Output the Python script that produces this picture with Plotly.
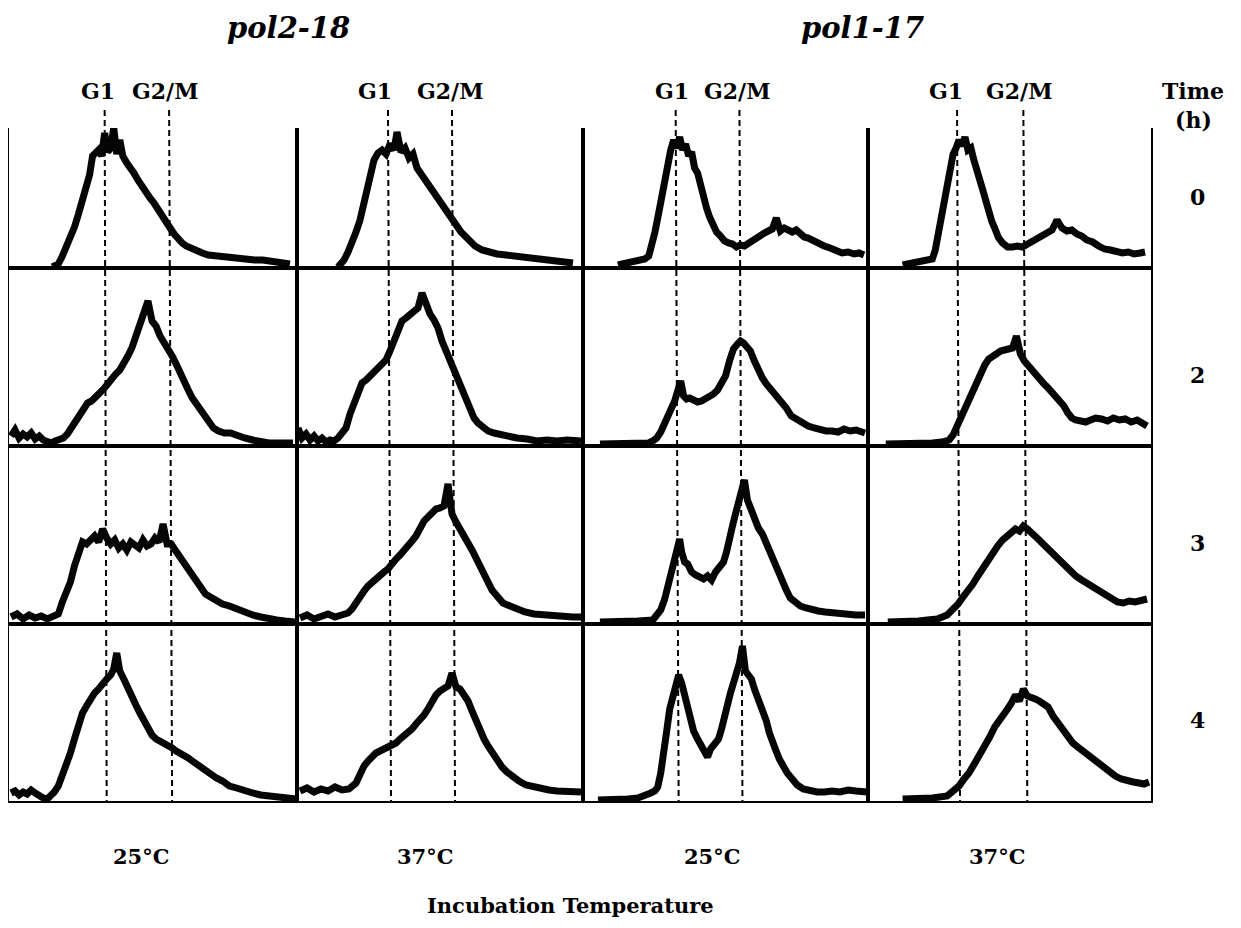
import plotly.graph_objects as go

# ---------------- data (DNA content channel offset, relative cell number) ----------------
# pol2-18, 25C
pol2_25_0h_x = [43, 49, 53, 57, 61, 65, 69, 73, 77, 80, 83, 86, 89, 92, 95, 98, 101, 104, 107, 110, 113, 117, 121, 124, 128, 132, 136, 140, 144, 148, 152, 156, 160, 164, 168, 172, 176, 180, 186, 192, 198, 205, 212, 220, 228, 236, 244, 252, 260, 268, 274, 279]
pol2_25_0h_y = [1, 4, 12, 21, 31, 41, 54, 68, 82, 93, 112, 116, 118, 112, 135, 116, 120, 140, 114, 128, 112, 105, 100, 95, 88, 81, 76, 70, 65, 58, 52, 45, 40, 34, 28, 25, 22, 20, 17, 15, 13, 12, 11, 11, 10, 9, 8, 8, 7, 6, 5, 4]
pol2_25_2h_x = [2, 6, 10, 14, 18, 22, 26, 30, 34, 38, 42, 46, 50, 54, 58, 62, 66, 70, 74, 78, 82, 86, 90, 94, 98, 102, 106, 110, 114, 118, 122, 126, 130, 134, 138, 142, 146, 150, 154, 158, 162, 166, 170, 174, 178, 182, 186, 190, 194, 198, 203, 208, 214, 220, 227, 234, 242, 250, 258, 266, 274, 282]
pol2_25_2h_y = [10, 16, 8, 12, 9, 13, 7, 10, 6, 4, 3, 5, 6, 8, 12, 18, 26, 31, 37, 43, 45, 50, 53, 57, 63, 66, 72, 76, 82, 90, 98, 110, 118, 130, 145, 125, 120, 110, 104, 98, 90, 82, 72, 64, 56, 48, 42, 35, 30, 23, 18, 15, 13, 13, 10, 8, 6, 4, 3, 3, 3, 3]
pol2_25_3h_x = [2, 8, 14, 20, 26, 32, 38, 44, 49, 53, 57, 61, 65, 69, 73, 77, 81, 85, 89, 93, 97, 101, 105, 109, 113, 117, 121, 125, 129, 133, 137, 141, 145, 149, 153, 157, 161, 165, 169, 173, 177, 181, 185, 190, 195, 200, 206, 212, 219, 226, 234, 242, 250, 258, 266, 274, 284]
pol2_25_3h_y = [7, 10, 5, 9, 6, 8, 5, 7, 10, 22, 32, 42, 58, 72, 82, 80, 84, 88, 82, 95, 86, 80, 84, 76, 80, 74, 82, 78, 76, 84, 78, 80, 86, 82, 100, 80, 80, 74, 68, 62, 57, 51, 45, 37, 30, 27, 23, 20, 18, 15, 12, 9, 7, 5, 4, 3, 2]
pol2_25_4h_x = [2, 6, 10, 14, 18, 22, 26, 30, 34, 38, 42, 45, 49, 53, 57, 61, 65, 69, 73, 77, 81, 85, 89, 93, 97, 101, 104, 107, 110, 114, 118, 122, 126, 130, 134, 138, 142, 146, 150, 154, 158, 162, 166, 170, 174, 178, 182, 186, 190, 195, 200, 206, 212, 219, 226, 234, 242, 250, 258, 266, 274, 280, 285]
pol2_25_4h_y = [8, 10, 6, 9, 7, 11, 8, 5, 3, 2, 5, 9, 15, 25, 35, 48, 62, 75, 88, 95, 102, 108, 112, 118, 122, 126, 132, 148, 130, 122, 112, 104, 96, 88, 80, 72, 66, 62, 60, 57, 55, 53, 50, 48, 46, 43, 40, 37, 34, 31, 27, 23, 20, 15, 13, 10, 8, 6, 5, 4, 3, 2, 2]
# pol2-18, 37C
pol2_37_0h_x = [41, 47, 51, 55, 59, 63, 67, 71, 74, 77, 81, 85, 89, 93, 97, 100, 104, 108, 112, 116, 120, 124, 128, 132, 136, 140, 144, 148, 152, 156, 160, 164, 168, 172, 178, 185, 192, 200, 209, 218, 226, 234, 241, 250, 258, 266, 272, 276]
pol2_37_0h_y = [1, 8, 16, 25, 36, 48, 64, 81, 96, 108, 115, 118, 114, 124, 118, 136, 116, 120, 110, 114, 100, 94, 90, 84, 78, 72, 65, 60, 55, 48, 42, 36, 32, 28, 22, 18, 16, 14, 13, 12, 11, 11, 10, 9, 8, 7, 6, 5]
pol2_37_2h_x = [1, 5, 9, 13, 17, 21, 25, 29, 33, 37, 41, 45, 49, 53, 57, 61, 65, 69, 73, 77, 81, 85, 89, 93, 97, 101, 105, 109, 113, 117, 121, 125, 129, 133, 137, 141, 145, 149, 153, 157, 161, 165, 169, 173, 177, 181, 185, 191, 197, 204, 212, 220, 230, 240, 250, 260, 270, 284]
pol2_37_2h_y = [18, 8, 12, 6, 10, 5, 8, 4, 6, 5, 8, 12, 18, 32, 42, 55, 63, 66, 70, 73, 76, 80, 86, 95, 105, 118, 125, 128, 132, 135, 138, 153, 140, 132, 126, 118, 105, 95, 85, 77, 66, 55, 45, 36, 28, 23, 19, 15, 13, 11, 9, 8, 7, 5, 6, 5, 6, 5]
pol2_37_3h_x = [3, 10, 17, 24, 31, 38, 45, 51, 55, 59, 63, 67, 71, 75, 79, 83, 87, 91, 95, 99, 103, 107, 111, 115, 119, 123, 127, 131, 135, 139, 143, 147, 151, 155, 159, 163, 167, 171, 175, 179, 183, 187, 191, 195, 200, 206, 213, 220, 228, 237, 246, 256, 266, 276, 284]
pol2_37_3h_y = [6, 9, 5, 8, 10, 7, 9, 11, 15, 22, 27, 33, 38, 42, 45, 48, 52, 55, 61, 65, 69, 73, 78, 83, 88, 96, 103, 107, 112, 115, 116, 118, 140, 110, 102, 94, 88, 81, 74, 66, 57, 49, 41, 34, 28, 21, 18, 15, 12, 10, 9, 8, 8, 7, 7]
pol2_37_4h_x = [3, 10, 17, 24, 31, 38, 45, 52, 59, 63, 67, 71, 75, 79, 83, 87, 91, 95, 99, 103, 107, 111, 115, 119, 123, 127, 131, 135, 139, 143, 147, 151, 155, 159, 163, 167, 171, 175, 179, 183, 187, 191, 195, 200, 205, 210, 216, 222, 229, 236, 244, 252, 260, 268, 276, 284]
pol2_37_4h_y = [10, 13, 9, 12, 10, 14, 11, 12, 18, 28, 35, 40, 45, 48, 50, 52, 54, 56, 58, 62, 65, 69, 72, 77, 81, 86, 92, 100, 106, 110, 112, 115, 128, 114, 112, 106, 100, 90, 80, 70, 62, 55, 48, 40, 34, 29, 24, 20, 16, 14, 12, 11, 10, 10, 9, 9]
# pol1-17, 25C
pol1_25_0h_x = [35, 45, 55, 62, 66, 69, 72, 75, 78, 81, 84, 86, 88, 91, 94, 97, 100, 103, 106, 109, 112, 115, 118, 121, 124, 127, 130, 134, 138, 142, 146, 150, 154, 158, 162, 166, 170, 174, 178, 182, 186, 190, 194, 198, 202, 206, 210, 214, 218, 222, 226, 230, 236, 242, 248, 254, 260, 266, 272, 277, 282]
pol1_25_0h_y = [3, 5, 7, 9, 12, 22, 35, 50, 68, 80, 95, 108, 118, 128, 120, 131, 118, 124, 112, 116, 100, 95, 82, 71, 60, 51, 44, 36, 32, 27, 25, 24, 21, 23, 22, 25, 26, 30, 33, 35, 37, 39, 50, 37, 40, 38, 36, 38, 34, 31, 30, 28, 24, 22, 20, 18, 15, 16, 14, 15, 13]
pol1_25_2h_x = [17, 30, 45, 58, 66, 70, 74, 78, 82, 86, 89, 92, 95, 98, 101, 104, 107, 111, 115, 119, 123, 127, 131, 135, 139, 143, 147, 151, 155, 158, 161, 164, 168, 172, 176, 180, 184, 189, 194, 199, 204, 209, 214, 220, 226, 232, 238, 244, 250, 256, 262, 268, 274, 283]
pol1_25_2h_y = [2, 2, 3, 2, 3, 5, 8, 14, 22, 32, 38, 45, 55, 65, 50, 47, 48, 46, 44, 45, 47, 50, 52, 56, 62, 70, 85, 97, 102, 105, 103, 100, 95, 85, 75, 68, 62, 56, 50, 45, 38, 30, 27, 23, 20, 18, 16, 15, 15, 14, 17, 15, 16, 13]
pol1_25_3h_x = [17, 35, 55, 70, 74, 78, 82, 86, 89, 92, 95, 97, 99, 102, 105, 109, 113, 117, 121, 125, 129, 133, 137, 141, 144, 147, 150, 153, 156, 159, 162, 165, 168, 172, 176, 180, 184, 188, 192, 196, 200, 204, 208, 213, 218, 224, 230, 236, 243, 250, 258, 266, 274, 283]
pol1_25_3h_y = [2, 2, 3, 4, 8, 14, 25, 40, 55, 65, 75, 85, 72, 62, 60, 52, 49, 46, 45, 48, 44, 52, 56, 62, 72, 82, 98, 110, 120, 128, 144, 124, 115, 108, 96, 90, 80, 72, 62, 50, 42, 34, 26, 22, 18, 16, 14, 13, 12, 11, 10, 10, 9, 9]
pol1_25_4h_x = [15, 30, 45, 55, 62, 68, 72, 75, 78, 81, 84, 87, 90, 93, 96, 99, 102, 105, 108, 111, 115, 119, 122, 125, 128, 132, 136, 139, 142, 145, 148, 151, 154, 157, 160, 163, 166, 169, 172, 175, 178, 181, 184, 187, 190, 193, 197, 201, 205, 210, 215, 221, 228, 235, 242, 250, 258, 266, 274, 280, 285]
pol1_25_4h_y = [1, 1, 2, 3, 5, 8, 10, 14, 28, 45, 70, 92, 102, 118, 126, 118, 104, 92, 78, 70, 62, 56, 50, 44, 52, 56, 62, 72, 86, 100, 108, 118, 126, 138, 155, 130, 126, 122, 112, 104, 98, 92, 80, 68, 58, 52, 42, 34, 28, 22, 16, 12, 10, 9, 9, 10, 9, 11, 10, 9, 9]
# pol1-17, 37C
pol1_37_0h_x = [35, 45, 55, 65, 68, 71, 74, 77, 80, 83, 86, 89, 92, 95, 98, 101, 104, 107, 110, 113, 116, 119, 122, 125, 128, 132, 136, 141, 146, 151, 156, 161, 166, 171, 176, 181, 186, 191, 196, 201, 206, 211, 216, 221, 227, 233, 239, 245, 251, 257, 263, 269, 275, 280]
pol1_37_0h_y = [3, 5, 7, 9, 18, 35, 50, 68, 85, 100, 114, 120, 128, 122, 131, 118, 120, 108, 100, 88, 78, 66, 56, 47, 40, 30, 25, 21, 21, 22, 21, 24, 26, 28, 31, 35, 38, 48, 40, 37, 38, 34, 32, 28, 26, 22, 19, 18, 16, 15, 16, 14, 15, 16]
pol1_37_2h_x = [18, 35, 50, 65, 75, 82, 86, 90, 94, 98, 102, 106, 110, 114, 118, 122, 126, 130, 134, 138, 142, 146, 150, 154, 158, 162, 166, 170, 174, 178, 182, 186, 190, 194, 198, 202, 206, 210, 215, 220, 225, 230, 236, 242, 248, 254, 260, 266, 272, 277, 282]
pol1_37_2h_y = [2, 2, 3, 3, 4, 6, 11, 20, 30, 40, 48, 57, 66, 75, 81, 87, 90, 93, 95, 96, 97, 98, 110, 92, 85, 80, 76, 71, 67, 62, 58, 54, 49, 45, 40, 33, 28, 26, 25, 24, 26, 28, 27, 25, 28, 26, 27, 24, 26, 22, 20]
pol1_37_3h_x = [20, 40, 51, 60, 70, 80, 86, 91, 96, 101, 106, 111, 116, 121, 126, 131, 136, 141, 145, 149, 153, 157, 161, 165, 169, 173, 177, 182, 187, 192, 198, 204, 210, 216, 222, 228, 234, 240, 246, 252, 258, 264, 270, 276, 282]
pol1_37_3h_y = [2, 2, 3, 4, 5, 9, 14, 20, 27, 33, 40, 48, 56, 64, 71, 78, 84, 88, 92, 95, 93, 98, 95, 92, 88, 84, 80, 75, 70, 64, 58, 52, 48, 44, 40, 36, 32, 28, 25, 22, 21, 23, 22, 24, 25]
pol1_37_4h_x = [35, 50, 65, 80, 86, 92, 97, 102, 108, 113, 118, 123, 128, 133, 137, 141, 145, 149, 153, 157, 161, 165, 169, 173, 177, 182, 187, 192, 197, 202, 207, 212, 217, 222, 227, 232, 238, 244, 250, 256, 262, 268, 274, 279, 284]
pol1_37_4h_y = [2, 2, 3, 5, 9, 15, 22, 28, 38, 46, 56, 64, 74, 80, 85, 92, 98, 106, 100, 112, 105, 104, 102, 100, 98, 94, 85, 78, 70, 64, 58, 54, 50, 46, 42, 38, 34, 28, 25, 22, 20, 19, 18, 17, 19]

# G1 / G2/M reference channels per column (top of figure, bottom of figure)
g1_top = [95, 91, 93, 90]
g1_bottom = [97, 94, 96, 93]
g2m_top = [159, 155, 157, 157]
g2m_bottom = [162, 158, 160, 161]

strains = ["pol2-18", "pol1-17"]
temperatures = ["25°C", "37°C", "25°C", "37°C"]
times = ["0", "2", "3", "4"]

panels = [
    [(pol2_25_0h_x, pol2_25_0h_y), (pol2_37_0h_x, pol2_37_0h_y), (pol1_25_0h_x, pol1_25_0h_y), (pol1_37_0h_x, pol1_37_0h_y)],
    [(pol2_25_2h_x, pol2_25_2h_y), (pol2_37_2h_x, pol2_37_2h_y), (pol1_25_2h_x, pol1_25_2h_y), (pol1_37_2h_x, pol1_37_2h_y)],
    [(pol2_25_3h_x, pol2_25_3h_y), (pol2_37_3h_x, pol2_37_3h_y), (pol1_25_3h_x, pol1_25_3h_y), (pol1_37_3h_x, pol1_37_3h_y)],
    [(pol2_25_4h_x, pol2_25_4h_y), (pol2_37_4h_x, pol2_37_4h_y), (pol1_25_4h_x, pol1_25_4h_y), (pol1_37_4h_x, pol1_37_4h_y)],
]

# ---------------- layout geometry (page pixels; page body has an 8px margin) ----------------
OFF = 8
W, H = 1241 - 2 * OFF, 928 - 2 * OFF
col_edges = [9, 297, 583, 868, 1151]
row_edges = [128, 268, 446, 624, 801]
X_RANGE = [0, 286]

def px(x):
    return (x - OFF) / W

def py(y):
    return 1 - (y - OFF) / H

FONT = "DejaVu Serif"
fig = go.Figure()
layout = dict(
    width=W, height=H, margin=dict(l=0, r=0, t=0, b=0),
    paper_bgcolor="white", plot_bgcolor="white", showlegend=False,
)

for r in range(4):
    for c in range(4):
        i = r * 4 + c + 1
        xs, ys = panels[r][c]
        xa = "x" if i == 1 else f"x{i}"
        ya = "y" if i == 1 else f"y{i}"
        fig.add_trace(go.Scatter(
            x=xs, y=ys, mode="lines", xaxis=xa, yaxis=ya,
            line=dict(color="#050505", width=7), hoverinfo="skip",
        ))
        layout[f"xaxis{i}"] = dict(
            domain=[px(col_edges[c]), px(col_edges[c + 1])], range=X_RANGE,
            anchor=ya, showticklabels=False, ticks="", showgrid=False, zeroline=False,
            showline=True, linecolor="black", linewidth=2,
            mirror=(r > 0),
        )
        layout[f"yaxis{i}"] = dict(
            domain=[py(row_edges[r + 1]), py(row_edges[r])],
            range=[0, row_edges[r + 1] - row_edges[r]],
            anchor=xa, showticklabels=False, ticks="", showgrid=False, zeroline=False,
            showline=True, linecolor="black", linewidth=2, mirror=True,
        )

shapes = []
for c in range(4):
    xr = "x" if c == 0 else f"x{c + 1}"
    for top, bot in ((g1_top[c], g1_bottom[c]), (g2m_top[c], g2m_bottom[c])):
        shapes.append(dict(
            type="line", xref=xr, yref="paper", x0=top, x1=bot,
            y0=py(110), y1=py(801), layer="below",
            line=dict(color="black", width=2, dash="6px,4px"),
        ))
layout["shapes"] = shapes

ann = []
def text(t, x, y, size):
    ann.append(dict(text=t, x=px(x), y=py(y), xref="paper", yref="paper",
                    showarrow=False, xanchor="center", yanchor="middle",
                    font=dict(family=FONT, size=size, color="black")))

text(f"<b><i>{strains[0]}</i></b>", 288, 28, 29)
text(f"<b><i>{strains[1]}</i></b>", 862, 28, 29)
g1_lbl = [98, 375, 672, 946]
g2_lbl = [165, 450, 737, 1019]
for c in range(4):
    text("<b>G1</b>", g1_lbl[c], 91, 22)
    text("<b>G2/M</b>", g2_lbl[c], 91, 22)
text("<b>Time</b>", 1193, 91, 22)
text("<b>(h)</b>", 1193, 120, 22)
for r in range(4):
    text(f"<b>{times[r]}</b>", 1197, [197, 375, 543, 720][r], 22)
temp_x = [141, 425, 712, 997]
for c in range(4):
    text(f"<b>{temperatures[c]}</b>", temp_x[c], 856, 21)
text("<b>Incubation Temperature</b>", 570, 905, 21)
layout["annotations"] = ann

fig.update_layout(**layout)
fig.write_html("out.html")
